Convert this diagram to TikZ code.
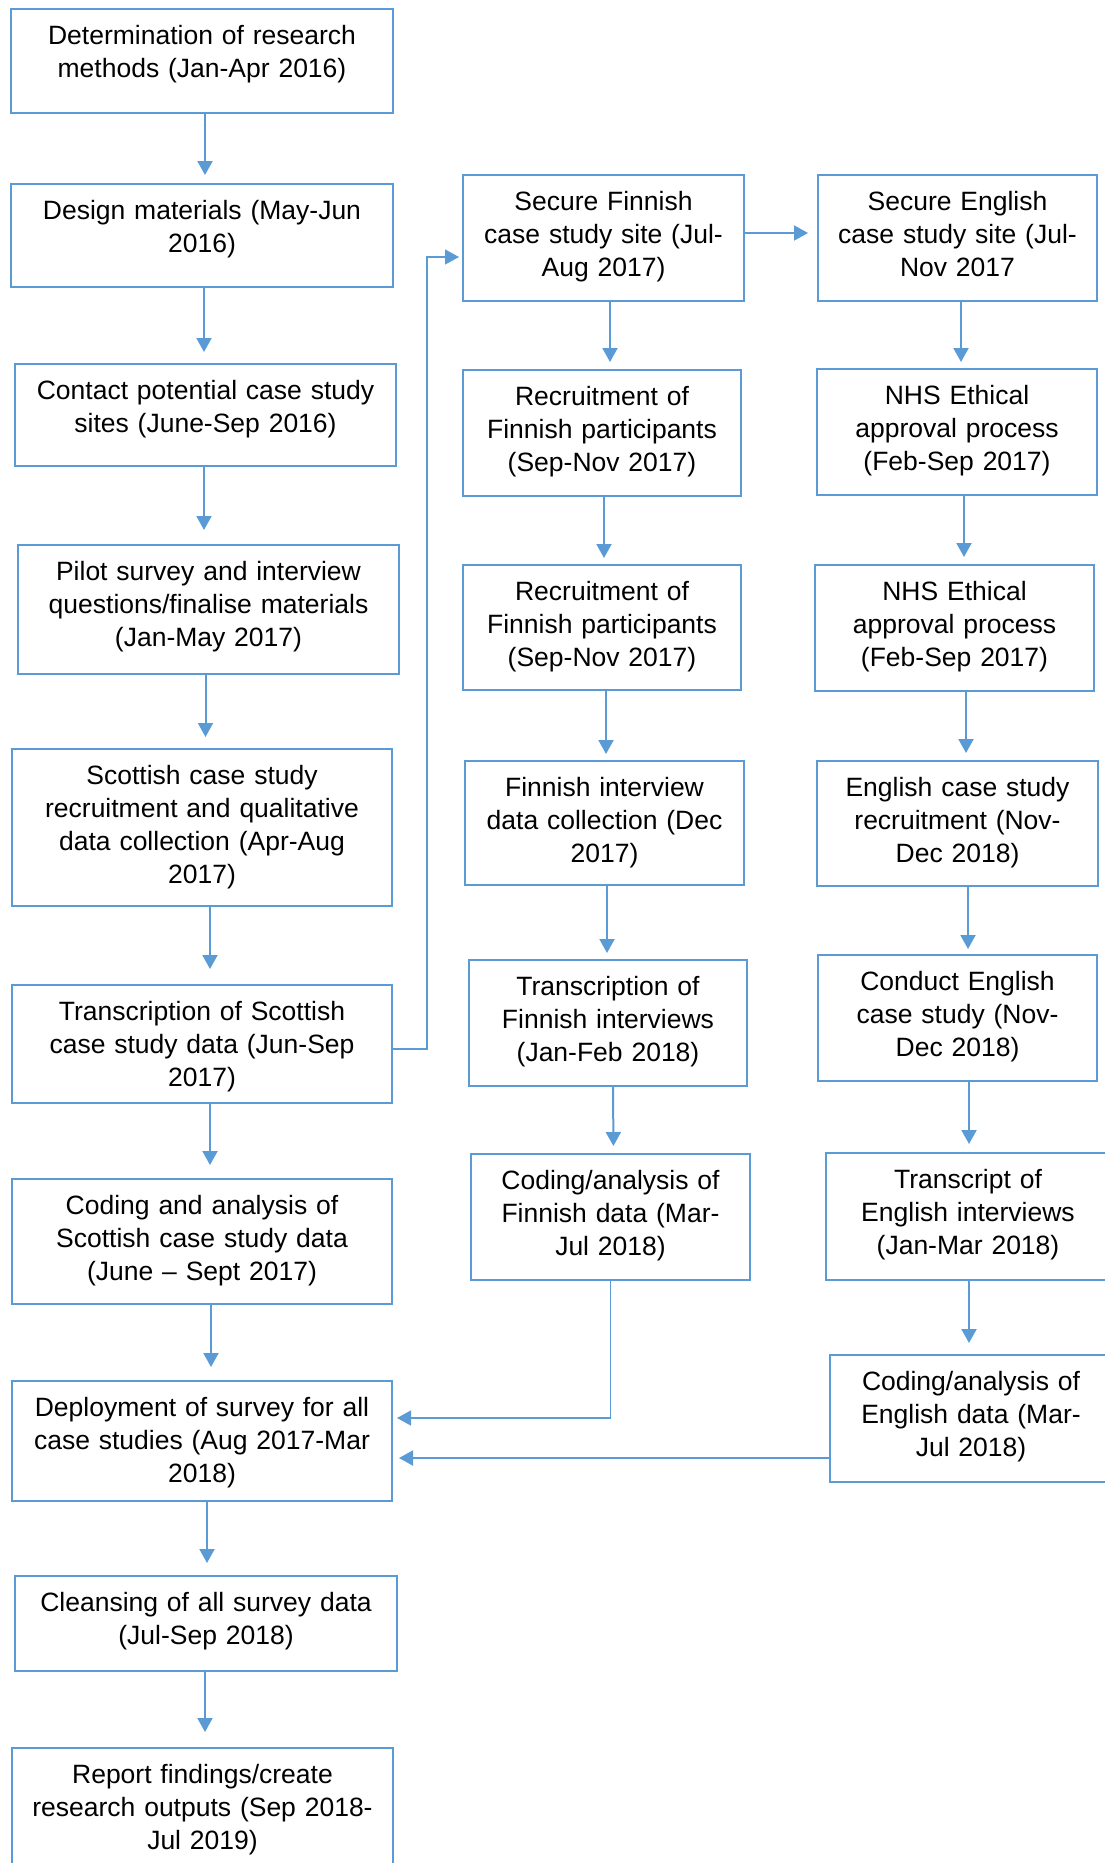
\documentclass[tikz,border=0pt]{standalone}
\usepackage{fontspec}
\setmainfont{Liberation Sans}
\usetikzlibrary{arrows.meta}

\definecolor{flowblue}{RGB}{91,155,213}

\tikzset{
  box/.style={draw=flowblue, line width=2.5pt, fill=white, anchor=north west,
    inner sep=0pt, outer sep=0pt, align=center, text height=35pt,
    font=\fontsize{26.5}{33}\selectfont},
  flow/.style={draw=flowblue, line width=2pt,
    -{Triangle[width=15pt,length=14pt]}, shorten >=#1},
  flow/.default=12pt,
  link/.style={draw=flowblue, line width=1.3pt,
    -{Triangle[width=15pt,length=14pt]}, shorten >=#1},
  link/.default=5pt
}

\begin{document}
\begin{tikzpicture}[x=1pt, y=-1pt]
\useasboundingbox (0,0) rectangle (1104,1863);

% main sequence (left column)
\node[box, text width=382pt, text depth=69pt] (L1) at (11,9)
  {Determination of research\\methods (Jan-Apr 2016)};
\node[box, text width=382pt, text depth=68pt] (L2) at (11,184)
  {Design materials (May-Jun\\2016)};
\node[box, text width=381pt, text depth=67pt] (L3) at (15,364)
  {Contact potential case study\\sites (June-Sep 2016)};
\node[box, text width=381pt, text depth=94pt] (L4) at (18,545)
  {Pilot survey and interview\\questions/finalise materials\\(Jan-May 2017)};
\node[box, text width=380pt, text depth=122pt] (L5) at (12,749)
  {Scottish case study\\recruitment and qualitative\\data collection (Apr-Aug\\2017)};
\node[box, text width=380pt, text depth=83pt] (L6) at (12,985)
  {Transcription of Scottish\\case study data (Jun-Sep\\2017)};
\node[box, text width=380pt, text depth=90pt] (L7) at (12,1179)
  {Coding and analysis of\\Scottish case study data\\(June – Sept 2017)};
\node[box, text width=380pt, text depth=85pt] (L8) at (12,1381)
  {Deployment of survey for all\\case studies (Aug 2017-Mar\\2018)};
\node[box, text width=382pt, text depth=60pt] (L9) at (15,1576)
  {Cleansing of all survey data\\(Jul-Sep 2018)};
\node[box, text width=381pt, text depth=105pt] (L10) at (12,1748)
  {Report findings/create\\research outputs (Sep 2018-\\Jul 2019)};

% Finnish case study (middle column)
\node[box, text width=281pt, text depth=91pt] (M1) at (463,175)
  {Secure Finnish\\case study site (Jul-\\Aug 2017)};
\node[box, text width=278pt, text depth=91pt] (M2) at (463,370)
  {Recruitment of\\Finnish participants\\(Sep-Nov 2017)};
\node[box, text width=278pt, text depth=90pt] (M3) at (463,565)
  {Recruitment of\\Finnish participants\\(Sep-Nov 2017)};
\node[box, text width=279pt, text depth=89pt] (M4) at (465,761)
  {Finnish interview\\data collection (Dec\\2017)};
\node[box, text width=278pt, text depth=91pt] (M5) at (469,960)
  {Transcription of\\Finnish interviews\\(Jan-Feb 2018)};
\node[box, text width=279pt, text depth=91pt] (M6) at (471,1154)
  {Coding/analysis of\\Finnish data (Mar-\\Jul 2018)};

% English case study (right column)
\node[box, text width=279pt, text depth=91pt] (E1) at (818,175)
  {Secure English\\case study site (Jul-\\Nov 2017};
\node[box, text width=280pt, text depth=91pt] (E2) at (817,369)
  {NHS Ethical\\approval process\\(Feb-Sep 2017)};
\node[box, text width=279pt, text depth=91pt] (E3) at (815,565)
  {NHS Ethical\\approval process\\(Feb-Sep 2017)};
\node[box, text width=281pt, text depth=90pt] (E4) at (817,761)
  {English case study\\recruitment (Nov-\\Dec 2018)};
\node[box, text width=279pt, text depth=91pt] (E5) at (818,955)
  {Conduct English\\case study (Nov-\\Dec 2018)};
\node[box, text width=284pt, text depth=92pt] (E6) at (826,1153)
  {Transcript of\\English interviews\\(Jan-Mar 2018)};
\node[box, text width=282pt, text depth=92pt] (E7) at (830,1355)
  {Coding/analysis of\\English data (Mar-\\Jul 2018)};

% left column arrows
\draw[flow=9pt]  ([xshift=3pt]L1.south)   -- ([xshift=3pt]L2.north);
\draw[flow=12pt] ([xshift=2pt]L2.south)   -- ([xshift=-1.5pt]L3.north);
\draw[flow=15pt] ([xshift=-1.5pt]L3.south) -- ([xshift=-4.5pt]L4.north);
\draw[flow=12pt] ([xshift=-3pt]L4.south)  -- ([xshift=3.5pt]L5.north);
\draw[flow=16pt] ([xshift=8pt]L5.south)   -- ([xshift=8pt]L6.north);
\draw[flow=14pt] ([xshift=8pt]L6.south)   -- ([xshift=8pt]L7.north);
\draw[flow=14pt] ([xshift=9pt]L7.south)   -- ([xshift=9pt]L8.north);
\draw[flow=13pt] ([xshift=5pt]L8.south)   -- ([xshift=1pt]L9.north);
\draw[flow=16pt] ([xshift=-1pt]L9.south)  -- ([xshift=2.5pt]L10.north);

% middle column arrows
\draw[flow=8pt] ([xshift=6.5pt]M1.south) -- ([xshift=8pt]M2.north);
\draw[flow=7pt] ([xshift=2pt]M2.south)   -- ([xshift=2pt]M3.north);
\draw[flow=7pt] ([xshift=4pt]M3.south)   -- ([xshift=1.5pt]M4.north);
\draw[flow=7pt] ([xshift=2.5pt]M4.south) -- ([xshift=-1pt]M5.north);
\draw[flow=8pt] ([xshift=5pt]M5.south)   -- ([xshift=3pt]M6.north);

% right column arrows
\draw[flow=7pt]  ([xshift=3.5pt]E1.south)  -- ([xshift=4pt]E2.north);
\draw[flow=8pt]  ([xshift=7pt]E2.south)    -- ([xshift=9.5pt]E3.north);
\draw[flow=8pt]  ([xshift=11.5pt]E3.south) -- ([xshift=8.5pt]E4.north);
\draw[flow=6pt]  ([xshift=10.5pt]E4.south) -- ([xshift=10.5pt]E5.north);
\draw[flow=9pt]  ([xshift=11.5pt]E5.south) -- ([xshift=1pt]E6.north);
\draw[flow=12pt] ([xshift=1pt]E6.south)    -- ([xshift=-2pt]E7.north);

% cross links
\draw[flow=10pt] ([yshift=5pt]M1.east) -- ([yshift=5pt]E1.west);
\coordinate (bend) at (427,257);
\draw[link=4pt] ([yshift=-5pt]L6.east) -| (bend) -- ([yshift=-19pt]M1.west);
\draw[link=5pt] (M6.south) |- ([yshift=23pt]L8.east);
\draw[flow=7pt] ([yshift=-39.5pt]E7.west) -- ([yshift=-17pt]L8.east);
\end{tikzpicture}
\end{document}
